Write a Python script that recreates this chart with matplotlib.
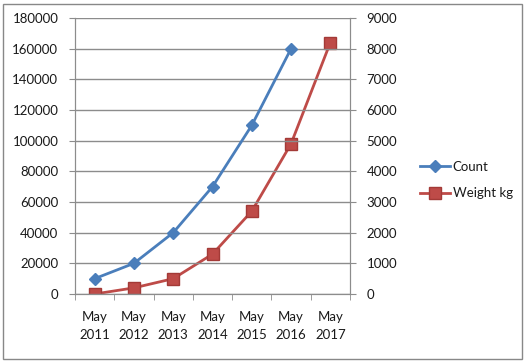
import matplotlib.pyplot as plt
from matplotlib.patches import Rectangle

plt.rcParams['font.family'] = ['Lato', 'DejaVu Sans']

years = ['May\n2011', 'May\n2012', 'May\n2013', 'May\n2014', 'May\n2015', 'May\n2016', 'May\n2017']
count = [10000, 20000, 40000, 70000, 110000, 160000]
weight = [0, 200, 500, 1300, 2700, 4900, 8200]

blue = '#4A7EBB'
red = '#BE4B48'
grid_col = '#8C8C8C'
txt = '#1a1a1a'

fig = plt.figure(figsize=(5.27, 3.62), dpi=100)
fig.patches.append(Rectangle((3 / 527, 3 / 362), 519 / 527, 355 / 362, transform=fig.transFigure,
                             fill=False, edgecolor='#888888', linewidth=1))

ax = fig.add_axes([75 / 527, 68 / 362, 275 / 527, 276 / 362])
ax2 = ax.twinx()

x = list(range(len(years)))
ax.plot(x[:len(count)], count, color=blue, linewidth=2, marker='D', markersize=6,
        markerfacecolor=blue, markeredgecolor=blue, label='Count', zorder=3)
ax2.plot(x, weight, color=red, linewidth=2, marker='s', markersize=9,
         markerfacecolor=red, markeredgecolor='#A33A37', label='Weight kg', zorder=3)

ax.set_xlim(-0.5, len(years) - 0.5)
ax.set_ylim(0, 180000)
ax2.set_ylim(0, 9000)
ax.set_yticks(range(0, 180001, 20000))
ax2.set_yticks(range(0, 9001, 1000))
ax.set_xticks(x)
ax.set_xticklabels(years, fontsize=9.5, linespacing=1.6, color=txt)
ax.set_xticks([i - 0.5 for i in range(len(years) + 1)], minor=True)
ax.tick_params(axis='x', which='major', length=0, pad=12)
ax.tick_params(axis='x', which='minor', length=4, color=grid_col, direction='out')
ax.tick_params(axis='y', length=4, color=grid_col, labelsize=9.5, pad=8, labelcolor=txt)
ax2.tick_params(axis='y', length=4, color=grid_col, labelsize=9.5, pad=8, labelcolor=txt)

ax.grid(axis='y', color=grid_col, linewidth=1)
ax.set_axisbelow(True)
for a in (ax, ax2):
    a.spines['top'].set_visible(False)
    for s in ('left', 'right', 'bottom'):
        a.spines[s].set_color(grid_col)

ax2.set_zorder(ax.get_zorder() + 1)
ax2.patch.set_visible(False)
ax.set_zorder(ax2.get_zorder() + 1)
ax.patch.set_visible(False)

h1, l1 = ax.get_legend_handles_labels()
h2, l2 = ax2.get_legend_handles_labels()
leg = fig.legend(h1 + h2, l1 + l2, loc='center left', bbox_to_anchor=(408 / 527, 1 - 180 / 362),
                 frameon=False, fontsize=9.5, handlelength=2.3, labelspacing=1.1, handletextpad=0.2)
for t in leg.get_texts():
    t.set_color(txt)

fig.savefig('out.png', dpi=100)
